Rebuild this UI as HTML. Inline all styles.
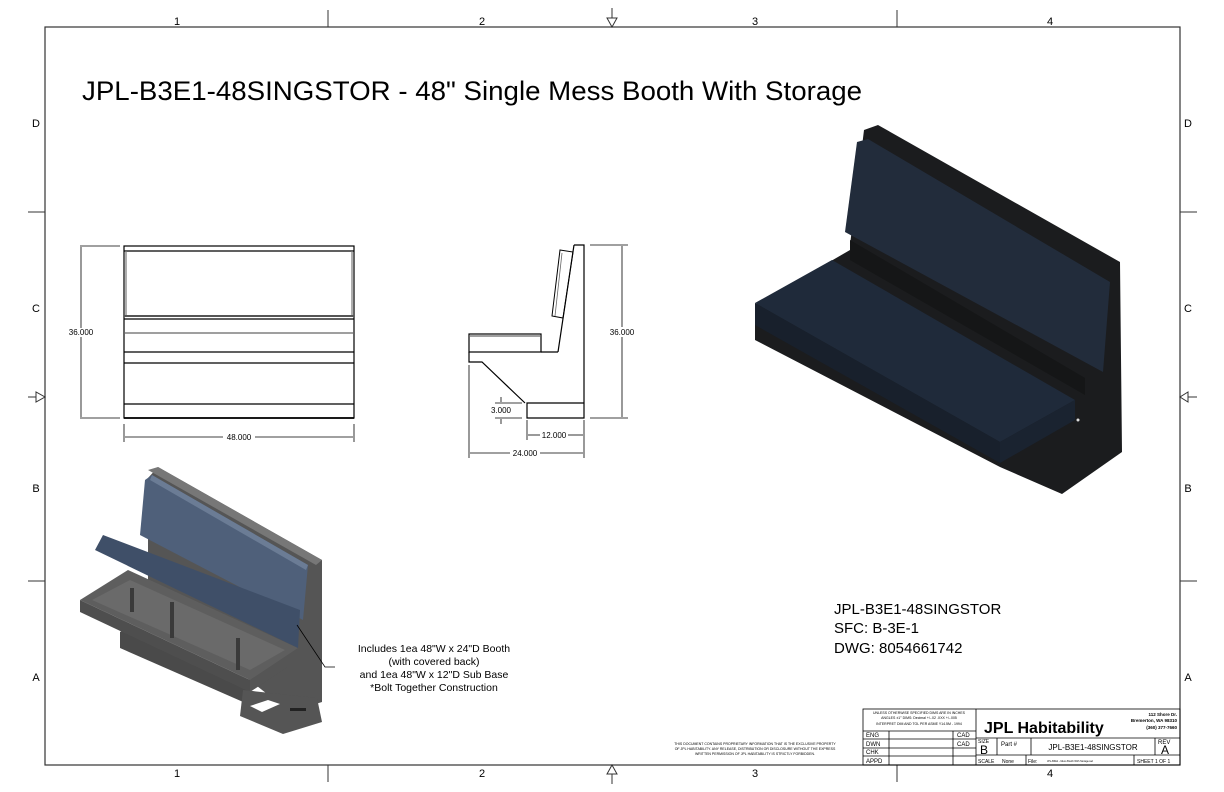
<!DOCTYPE html>
<html><head><meta charset="utf-8"><style>
html,body{margin:0;padding:0;background:#fff}
svg{display:block}
text{font-family:"Liberation Sans",Arial,sans-serif;fill:#000}
</style></head><body>
<svg width="1224" height="792" viewBox="0 0 1224 792" xmlns="http://www.w3.org/2000/svg">
<rect x="45" y="27" width="1135" height="738" fill="none" stroke="#333" stroke-width="1.2"/>
<g stroke="#333" stroke-width="1">
<line x1="328" y1="10" x2="328" y2="27"/><line x1="897" y1="10" x2="897" y2="27"/>
<line x1="328" y1="765" x2="328" y2="782"/><line x1="897" y1="765" x2="897" y2="782"/>
<line x1="28" y1="212" x2="45" y2="212"/><line x1="28" y1="581" x2="45" y2="581"/>
<line x1="1180" y1="212" x2="1197" y2="212"/><line x1="1180" y1="581" x2="1197" y2="581"/>
<line x1="612" y1="8" x2="612" y2="18"/><line x1="612" y1="774" x2="612" y2="784"/>
<line x1="28" y1="397" x2="36" y2="397"/><line x1="1188" y1="397" x2="1197" y2="397"/>
</g>
<g fill="none" stroke="#333" stroke-width="1">
<polygon points="607,18 617,18 612,27"/>
<polygon points="607,774 617,774 612,765"/>
<polygon points="36,392 36,402 45,397"/>
<polygon points="1188,392 1188,402 1180,397"/>
</g>
<g font-size="11" text-anchor="middle">
<text x="177" y="25">1</text><text x="482" y="25">2</text><text x="755" y="25">3</text><text x="1050" y="25">4</text>
<text x="177" y="777">1</text><text x="482" y="777">2</text><text x="755" y="777">3</text><text x="1050" y="777">4</text>
<text x="36" y="127">D</text><text x="36" y="312">C</text><text x="36" y="492">B</text><text x="36" y="681">A</text>
<text x="1188" y="127">D</text><text x="1188" y="312">C</text><text x="1188" y="492">B</text><text x="1188" y="681">A</text>
</g>
<text x="82" y="100" font-size="27" textLength="780" lengthAdjust="spacingAndGlyphs">JPL-B3E1-48SINGSTOR - 48" Single Mess Booth With Storage</text>

<g fill="none" stroke="#000" stroke-width="1.2">
<rect x="124" y="246" width="230" height="172"/>
<line x1="124" y1="251" x2="354" y2="251"/>
<line x1="126" y1="251" x2="126" y2="316" stroke="#777"/>
<line x1="352" y1="251" x2="352" y2="316" stroke="#777"/>
<line x1="124" y1="316" x2="354" y2="316" stroke="#555" stroke-width="2"/>
<line x1="124" y1="319" x2="354" y2="319"/>
<line x1="124" y1="333" x2="354" y2="333" stroke="#666"/>
<line x1="124" y1="352" x2="354" y2="352"/>
<line x1="124" y1="363" x2="354" y2="363"/>
<line x1="124" y1="404" x2="354" y2="404"/>
<line x1="124" y1="418" x2="354" y2="418" stroke-width="1.8"/>
</g>
<g stroke="#000" stroke-width="0.8" fill="none">
<line x1="80" y1="246" x2="120" y2="246"/><line x1="80" y1="418" x2="120" y2="418"/>
<line x1="81" y1="247" x2="81" y2="328"/><line x1="81" y1="337" x2="81" y2="417"/>
<line x1="124" y1="424" x2="124" y2="442"/><line x1="354" y1="424" x2="354" y2="442"/>
<line x1="125" y1="437" x2="223" y2="437"/><line x1="255" y1="437" x2="353" y2="437"/>
</g>
<text x="81" y="335" font-size="8" text-anchor="middle">36.000</text>
<text x="239" y="440" font-size="8" text-anchor="middle">48.000</text>

<g fill="none" stroke="#000" stroke-width="1.2">
<polyline points="574,245 584,245 584,418 527,418 527,403 584,403"/>
<line x1="574" y1="245" x2="558" y2="352"/>
<polyline points="558,352 541,352"/>
<rect x="469" y="334" width="72" height="18"/>
<line x1="469" y1="336" x2="541" y2="336" stroke="#666"/>
<polyline points="469,352 469,362 482,362 525,403"/>
<polygon points="560,250 573,252 563,318 552,316" stroke-width="1"/>
<line x1="562" y1="253" x2="555" y2="316" stroke="#666" stroke-width="0.8"/>
</g>
<g stroke="#000" stroke-width="0.8">
<line x1="590" y1="245" x2="628" y2="245"/><line x1="590" y1="418" x2="628" y2="418"/>
<line x1="622" y1="246" x2="622" y2="327"/><line x1="622" y1="337" x2="622" y2="417"/>
<line x1="469" y1="365" x2="469" y2="458"/><line x1="584" y1="420" x2="584" y2="458"/>
<line x1="527" y1="420" x2="527" y2="440"/>
<line x1="528" y1="435" x2="540" y2="435"/><line x1="568" y1="435" x2="583" y2="435"/>
<line x1="470" y1="453" x2="510" y2="453"/><line x1="540" y1="453" x2="583" y2="453"/>
<line x1="495" y1="403" x2="522" y2="403"/><line x1="495" y1="418" x2="522" y2="418"/>
<line x1="501" y1="397" x2="501" y2="402"/><line x1="501" y1="419" x2="501" y2="424"/>
</g>
<text x="622" y="335" font-size="8" text-anchor="middle">36.000</text>
<text x="554" y="438" font-size="8" text-anchor="middle">12.000</text>
<text x="525" y="456" font-size="8" text-anchor="middle">24.000</text>
<text x="501" y="413" font-size="8" text-anchor="middle">3.000</text>

<polygon points="864,130 878,125 1120,262 1122,452 1062,494 1000,467 755,340 755,305 850,250 850,245" fill="#1b1c1e"/>
<polygon points="857,142 868,139 1110,282 1103,372 845,232" fill="#222c3b"/>
<polygon points="850,240 1085,378 1085,395 850,260" fill="#151617"/>
<polygon points="755,303 832,260 1075,400 1000,442" fill="#1f2a3a"/>
<polygon points="755,303 1000,442 1000,463 755,325" fill="#18202c"/>
<polygon points="1000,442 1075,400 1075,420 1000,463" fill="#1a2330"/>
<circle cx="1078" cy="420" r="1.5" fill="#ddd"/>

<polygon points="148,478 158,467 322,560 322,702 290,712 148,600" fill="#555"/>
<polygon points="148,470 158,467 322,560 316,565" fill="#777"/>
<polygon points="145,480 152,475 308,565 303,620 140,535" fill="#4f607a"/>
<polygon points="152,475 308,565 306,570 150,480" fill="#6b7c95"/>
<polygon points="120,632 128,628 250,688 250,705 120,648" fill="#4a4a4a"/>
<polygon points="80,600 128,570 298,648 250,680" fill="#5e5e5e"/>
<polygon points="92,600 130,580 285,650 250,670" fill="#6a6a6a"/>
<polygon points="80,600 250,680 250,692 80,612" fill="#4e4e4e"/>
<polygon points="250,680 298,648 298,660 250,692" fill="#555"/>
<g stroke="#3a3a3a" stroke-width="4"><line x1="132" y1="588" x2="132" y2="612"/><line x1="172" y1="602" x2="172" y2="638"/><line x1="238" y1="638" x2="238" y2="670"/></g>
<polygon points="95,550 103,535 300,610 298,648" fill="#3f4f68"/>
<polygon points="243,690 317,698 322,722 283,734 240,716" fill="#555"/>
<polygon points="250,706 268,700 280,704 262,712" fill="#fff"/>
<rect x="290" y="708" width="16" height="3" fill="#222"/>
<polyline points="297,625 325,667 335,667" fill="none" stroke="#000" stroke-width="0.8"/>

<g font-size="10.5" text-anchor="middle">
<text x="434" y="652">Includes 1ea 48"W x 24"D Booth</text>
<text x="434" y="665">(with covered back)</text>
<text x="434" y="678">and 1ea 48"W x 12"D Sub Base</text>
<text x="434" y="691">*Bolt Together Construction</text>
</g>
<g font-size="15">
<text x="834" y="614">JPL-B3E1-48SINGSTOR</text>
<text x="834" y="633">SFC:  B-3E-1</text>
<text x="834" y="653">DWG:  8054661742</text>
</g>

<g fill="none" stroke="#000" stroke-width="0.8">
<rect x="863" y="709" width="317" height="56"/>
<line x1="976" y1="709" x2="976" y2="765"/>
<line x1="863" y1="731" x2="976" y2="731"/>
<line x1="863" y1="739" x2="976" y2="739"/>
<line x1="863" y1="748" x2="976" y2="748"/>
<line x1="863" y1="756" x2="976" y2="756"/>
<line x1="889" y1="731" x2="889" y2="765"/>
<line x1="953" y1="731" x2="953" y2="765"/>
<line x1="976" y1="738" x2="1180" y2="738"/>
<line x1="976" y1="755" x2="1180" y2="755"/>
<line x1="997" y1="738" x2="997" y2="755"/>
<line x1="1031" y1="738" x2="1031" y2="755"/>
<line x1="1155" y1="738" x2="1155" y2="755"/>
<line x1="1026" y1="755" x2="1026" y2="765"/>
<line x1="1134" y1="755" x2="1134" y2="765"/>
</g>
<g font-size="3.5" text-anchor="middle">
<text x="919" y="714">UNLESS OTHERWISE SPECIFIED DIMS ARE IN INCHES</text>
<text x="919" y="719">ANGLES ±1°  DIMS: Decimal +/-.02  .XXX +/-.005</text>
<text x="919" y="725">INTERPRET DIM AND TOL PER ASME Y14.5M - 1994</text>
<text x="755" y="745">THIS DOCUMENT CONTAINS PROPRIETARY INFORMATION THAT IS THE EXCLUSIVE PROPERTY</text>
<text x="755" y="750">OF JPL HABITABILITY.  ANY RELEASE, DISTRIBUTION OR DISCLOSURE WITHOUT THE EXPRESS</text>
<text x="755" y="755">WRITTEN PERMISSION OF JPL HABITABILITY IS STRICTLY FORBIDDEN.</text>
</g>
<g font-size="6">
<text x="866" y="737">ENG</text><text x="866" y="746">DWN</text><text x="866" y="754">CHK</text><text x="866" y="763">APPD</text>
<text x="957" y="737">CAD</text><text x="957" y="746">CAD</text>
</g>
<text x="984" y="733" font-size="16" font-weight="bold">JPL Habitability</text>
<g font-size="4.5" text-anchor="end" font-weight="bold">
<text x="1177" y="716">112  Shore Dr.</text>
<text x="1177" y="722">Bremerton, WA 98310</text>
<text x="1177" y="729">(360) 377-7660</text>
</g>
<text x="978" y="743" font-size="5">SIZE</text>
<text x="980" y="754" font-size="12">B</text>
<text x="1001" y="746" font-size="6">Part #</text>
<text x="1093" y="750" font-size="8" text-anchor="middle">JPL-B3E1-48SINGSTOR</text>
<text x="1158" y="744" font-size="6">REV</text>
<text x="1161" y="754" font-size="12">A</text>
<text x="978" y="763" font-size="5">SCALE</text>
<text x="1002" y="763" font-size="5">None</text>
<text x="1028" y="763" font-size="5">File:</text>
<text x="1047" y="762" font-size="2.5">JPL-B3E1 - Mess Booth With Storage.iad</text>
<text x="1137" y="763" font-size="5">SHEET 1 OF 1</text>
</svg>
</body></html>
